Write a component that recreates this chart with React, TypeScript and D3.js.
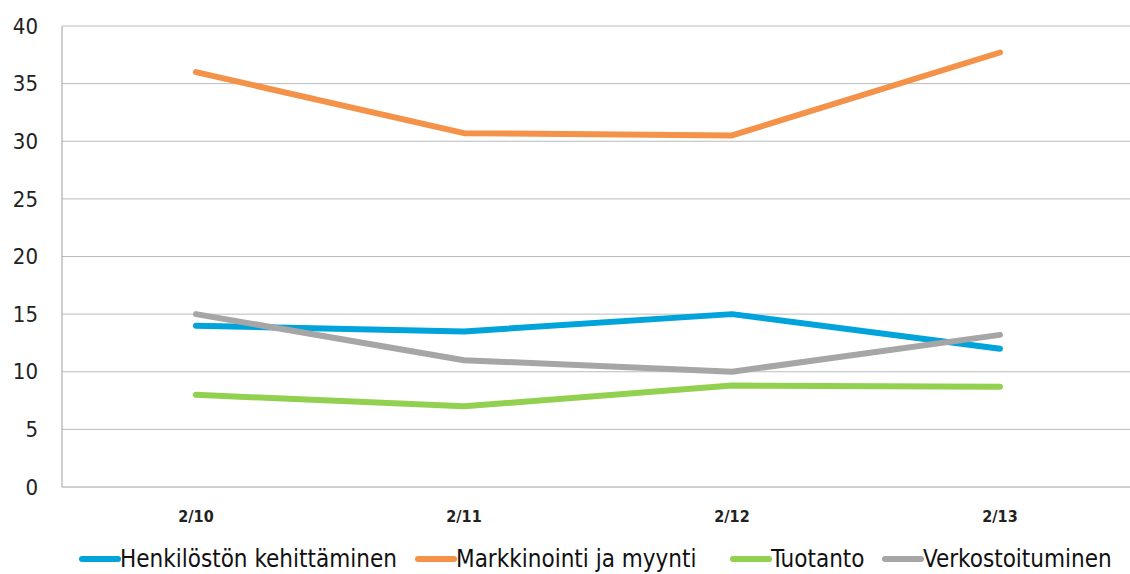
import React, { useEffect, useRef } from 'react';
import * as d3 from 'd3';

const categories = ['2/10', '2/11', '2/12', '2/13'];
const seriesNames = ['Henkilöstön kehittäminen', 'Markkinointi ja myynti', 'Tuotanto', 'Verkostoituminen'];
const henkilosto = [14, 13.5, 15, 12];
const markkinointi = [36, 30.7, 30.5, 37.7];
const tuotanto = [8, 7, 8.8, 8.7];
const verkostoituminen = [15, 11, 10, 13.2];
const yTicks = [0, 5, 10, 15, 20, 25, 30, 35, 40];
const colors = ['#00A3DA', '#F39248', '#92D050', '#A6A6A6'];

const App = () => {
  const ref = useRef<SVGSVGElement>(null);

  useEffect(() => {
    const svg = d3.select(ref.current);
    svg.selectAll('*').remove();

    const left = 62, top = 26, bottom = 487, right = 1134;
    const font = '"DejaVu Sans Condensed", "DejaVu Sans", sans-serif';

    const x = d3.scaleBand().domain(categories).range([left, right]);
    const y = d3.scaleLinear().domain([0, 40]).range([bottom, top]);

    // grid
    svg.append('g')
      .selectAll('line')
      .data(yTicks.filter(t => t > 0))
      .enter()
      .append('line')
      .attr('x1', left)
      .attr('x2', 1130)
      .attr('y1', d => y(d))
      .attr('y2', d => y(d))
      .attr('stroke', '#BBBBBB')
      .attr('stroke-width', 1);

    // axes lines
    svg.append('line')
      .attr('x1', left).attr('x2', left)
      .attr('y1', top).attr('y2', bottom)
      .attr('stroke', '#A0A0A0');
    svg.append('line')
      .attr('x1', left).attr('x2', 1130)
      .attr('y1', bottom).attr('y2', bottom)
      .attr('stroke', '#A0A0A0');

    // y tick labels
    svg.append('g')
      .selectAll('text')
      .data(yTicks)
      .enter()
      .append('text')
      .attr('x', 38)
      .attr('y', d => y(d))
      .attr('dy', '0.35em')
      .attr('text-anchor', 'end')
      .attr('font-family', font)
      .attr('font-size', 22)
      .attr('fill', '#222')
      .text(d => d);

    // x tick labels
    svg.append('g')
      .selectAll('text')
      .data(categories)
      .enter()
      .append('text')
      .attr('x', d => (x(d) as number) + x.bandwidth() / 2)
      .attr('y', 522)
      .attr('text-anchor', 'middle')
      .attr('font-family', font)
      .attr('font-weight', 'bold')
      .attr('font-size', 16)
      .attr('fill', '#222')
      .text(d => d);

    const allSeries = [henkilosto, markkinointi, tuotanto, verkostoituminen];
    const line = d3.line<number>()
      .x((d, i) => (x(categories[i]) as number) + x.bandwidth() / 2)
      .y(d => y(d));

    allSeries.forEach((s, i) => {
      svg.append('path')
        .datum(s)
        .attr('d', line)
        .attr('fill', 'none')
        .attr('stroke', colors[i])
        .attr('stroke-width', 6)
        .attr('stroke-linecap', 'round')
        .attr('stroke-linejoin', 'round');
    });

    // legend
    const legendX = [80, 416, 731, 883];
    const legend = svg.append('g');
    seriesNames.forEach((name, i) => {
      legend.append('line')
        .attr('x1', legendX[i] + 2).attr('x2', legendX[i] + 38)
        .attr('y1', 559).attr('y2', 559)
        .attr('stroke', colors[i])
        .attr('stroke-width', 6)
        .attr('stroke-linecap', 'round');
      legend.append('text')
        .attr('x', legendX[i] + 40)
        .attr('y', 559)
        .attr('dy', '0.33em')
        .attr('font-family', font)
        .attr('font-size', 24)
        .attr('fill', '#111')
        .text(name);
    });
  }, []);

  return (
    <svg ref={ref} width={1130} height={574} style={{ position: 'absolute', left: 0, top: 0, background: '#fff' }} />
  );
};

export default App;
